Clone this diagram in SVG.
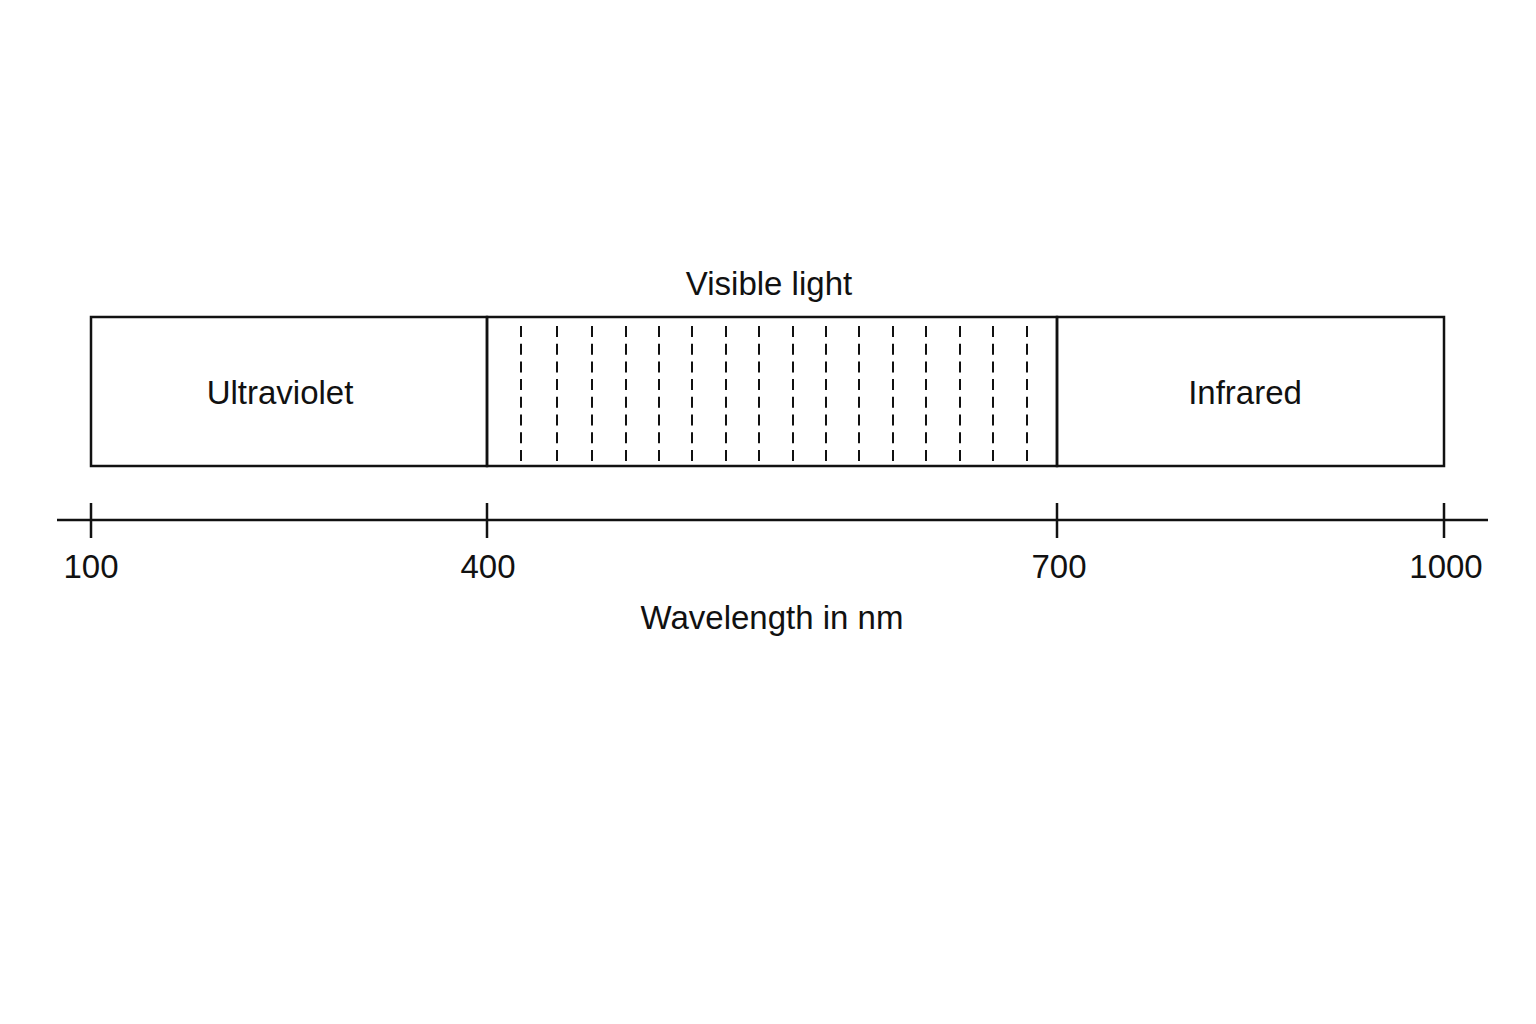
<svg xmlns="http://www.w3.org/2000/svg" width="1536" height="1024" viewBox="0 0 1536 1024">
<style>
.ln{stroke:#111;stroke-width:2.5;fill:none}
.dash{stroke:#111;stroke-width:2;stroke-dasharray:11 6.7;fill:none}
text{font-family:"Liberation Sans",Arial,sans-serif;font-size:33px;fill:#111;text-anchor:middle}
</style>
<rect width="1536" height="1024" fill="#fff"/>
<g id="ultraviolet">
<rect class="ln" x="91" y="317" width="396" height="149"/>
<text x="280" y="404">Ultraviolet</text>
</g>
<g id="visible">
<rect class="ln" x="487" y="317" width="570" height="149"/>
<text x="769" y="295">Visible light</text>
<g id="visible-bands">
<path class="dash" d="M521 326V462M557 326V462M592 326V462M626 326V462M659 326V462M692 326V462M726 326V462M759 326V462M793 326V462M826 326V462M859 326V462M893 326V462M926 326V462M960 326V462M993 326V462M1027 326V462"/>
</g>
</g>
<g id="infrared">
<rect class="ln" x="1057" y="317" width="387" height="149"/>
<text x="1245" y="404">Infrared</text>
</g>
<g id="axis">
<path class="ln" d="M57 520H1488M91 503V538M487 503V538M1057 503V538M1444 503V538"/>
<text x="91" y="578">100</text>
<text x="488" y="578">400</text>
<text x="1059" y="578">700</text>
<text x="1446" y="578">1000</text>
<text x="772" y="629">Wavelength in nm</text>
</g>
</svg>
